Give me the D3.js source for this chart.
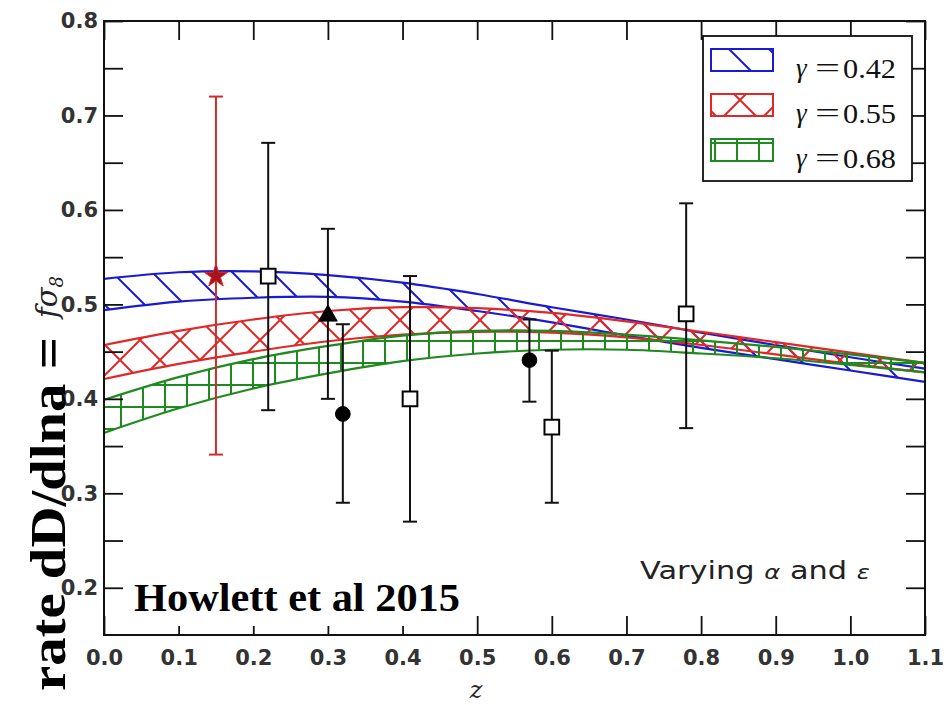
<!DOCTYPE html>
<html>
<head>
<meta charset="utf-8">
<script src="https://cdn.jsdelivr.net/npm/d3@7"></script>
<style>
body { margin: 0; background: #fff; }
svg { display: block; }
</style>
</head>
<body>
<svg id="chart"></svg>
<script>
// band grid (redshift) and the three growth-index bands
const zGrid    = [0.0, 0.1, 0.2, 0.3, 0.4, 0.5, 0.6, 0.7, 0.8, 0.9, 1.0, 1.1];
const blueHi   = [0.527, 0.534, 0.535, 0.531, 0.523, 0.511, 0.497, 0.484, 0.470, 0.457, 0.444, 0.432];
const blueLo   = [0.494, 0.503, 0.507, 0.508, 0.503, 0.493, 0.481, 0.467, 0.454, 0.442, 0.430, 0.418];
const redHi    = [0.457, 0.472, 0.484, 0.493, 0.497, 0.496, 0.491, 0.482, 0.471, 0.460, 0.449, 0.438];
const redLo    = [0.421, 0.437, 0.450, 0.461, 0.468, 0.471, 0.470, 0.465, 0.457, 0.447, 0.437, 0.428];
const greenHi  = [0.399, 0.423, 0.442, 0.456, 0.467, 0.472, 0.472, 0.468, 0.462, 0.455, 0.447, 0.438];
const greenLo  = [0.364, 0.390, 0.411, 0.427, 0.440, 0.448, 0.452, 0.452, 0.448, 0.443, 0.436, 0.428];
const bandVals = ["0.42", "0.55", "0.68"];

// measurements
const pz     = [0.15, 0.22, 0.30, 0.32, 0.41, 0.57, 0.60, 0.78];
const pval   = [0.530, 0.530, 0.488, 0.384, 0.400, 0.441, 0.370, 0.490];
const plo    = [0.341, 0.388, 0.400, 0.290, 0.270, 0.397, 0.290, 0.369];
const phi    = [0.720, 0.671, 0.580, 0.479, 0.530, 0.484, 0.451, 0.607];
const pshape = ["star", "square", "triangle", "circle", "square", "circle", "square", "square"];

const xTicks = [0.0, 0.1, 0.2, 0.3, 0.4, 0.5, 0.6, 0.7, 0.8, 0.9, 1.0, 1.1];
const yTicks = [0.2, 0.25, 0.3, 0.35, 0.4, 0.45, 0.5, 0.55, 0.6, 0.65, 0.7, 0.75, 0.8];

const W = 946, H = 705;
const L = 104, R = 925, T = 21, B = 635;

const svg = d3.select("svg#chart")
              .attr("width", W)
              .attr("height", H)

const x = d3.scaleLinear().domain([0, 1.1]).range([L, R])
const y = d3.scaleLinear().domain([0.15, 0.8]).range([B, T])

//hatch patterns
const defs = svg.append("defs")
function hatch(id, color, size, d) {
    defs.append("pattern")
        .attr("id", id)
        .attr("patternUnits", "userSpaceOnUse")
        .attr("width", size)
        .attr("height", size)
      .append("path")
        .attr("d", d)
        .attr("stroke", color)
        .attr("stroke-width", 2)
        .attr("fill", "none")
}
hatch("hBlue", "#1a1ad0", 40, "M0,0L40,40M-10,30L10,50M30,-10L50,10")
hatch("hRed", "#e02828", 40, "M0,0L40,40M-10,30L10,50M30,-10L50,10M0,40L40,0M-10,10L10,-10M30,50L50,30")
hatch("hGreen", "#1f8a1f", 22, "M11,0V22M0,11H22")

defs.append("clipPath").attr("id", "plotClip")
    .append("rect").attr("x", L).attr("y", T).attr("width", R - L).attr("height", B - T)

const bands = [
    {hi: blueHi, lo: blueLo, color: "#1a1ad0", pat: "hBlue"},
    {hi: redHi, lo: redLo, color: "#e02828", pat: "hRed"},
    {hi: greenHi, lo: greenLo, color: "#1f8a1f", pat: "hGreen"}
]

const plot = svg.append("g").attr("clip-path", "url(#plotClip)")
const curve = d3.curveCatmullRom

bands.forEach(b => {
    const area = d3.area()
                   .x((d, i) => x(zGrid[i]))
                   .y0((d, i) => y(b.lo[i]))
                   .y1((d, i) => y(b.hi[i]))
                   .curve(curve)
    plot.append("path")
        .attr("d", area(zGrid))
        .attr("fill", "url(#" + b.pat + ")")
    const line = d3.line().curve(curve)
    ;[b.hi, b.lo].forEach(arr => {
        plot.append("path")
            .attr("d", line(zGrid.map((z, i) => [x(z), y(arr[i])])))
            .attr("fill", "none")
            .attr("stroke", b.color)
            .attr("stroke-width", 2.2)
    })
})

//error bars + markers
pz.forEach((z, i) => {
    const col = pshape[i] === "star" ? "#d42a2a" : "#111"
    const cx = x(z)
    plot.append("line")
        .attr("x1", cx).attr("x2", cx)
        .attr("y1", y(plo[i])).attr("y2", y(phi[i]))
        .attr("stroke", col).attr("stroke-width", 2)
    ;[plo[i], phi[i]].forEach(v => {
        plot.append("line")
            .attr("x1", cx - 7).attr("x2", cx + 7)
            .attr("y1", y(v)).attr("y2", y(v))
            .attr("stroke", col).attr("stroke-width", 2)
    })
})

const symbols = {
    star: d3.symbolStar, square: d3.symbolSquare,
    triangle: d3.symbolTriangle, circle: d3.symbolCircle
}
pz.forEach((z, i) => {
    const s = pshape[i]
    const size = s === "square" ? 215 : s === "circle" ? 170 : s === "star" ? 170 : 150
    plot.append("path")
        .attr("d", d3.symbol().type(symbols[s]).size(size)())
        .attr("transform", "translate(" + x(z) + "," + y(pval[i]) + ")")
        .attr("fill", s === "square" ? "white" : s === "star" ? "#a8141c" : "#000")
        .attr("stroke", s === "star" ? "#d42a2a" : "#000")
        .attr("stroke-width", s === "square" ? 2 : 1)
})

//axes, ticks pointing in
const tickFont = g => g.selectAll("text")
                       .attr("font-family", "DejaVu Sans")
                       .attr("font-weight", "bold")
                       .attr("font-size", 21)
                       .attr("fill", "#333")
const noDomain = g => g.select(".domain").remove()

svg.append("g")
   .attr("transform", "translate(0," + B + ")")
   .call(d3.axisBottom(x).tickValues(xTicks).tickSize(-19).tickPadding(15).tickFormat(d3.format(".1f")))
   .call(noDomain).call(tickFont)
svg.append("g")
   .attr("transform", "translate(0," + T + ")")
   .call(d3.axisTop(x).tickValues(xTicks).tickSize(-19).tickFormat(""))
   .call(noDomain)
svg.append("g")
   .attr("transform", "translate(" + L + ",0)")
   .call(d3.axisLeft(y).tickValues(yTicks).tickSize(-19).tickPadding(6)
         .tickFormat(d => Math.round(d * 100) % 10 === 0 ? d3.format(".1f")(d) : ""))
   .call(noDomain).call(tickFont)
svg.append("g")
   .attr("transform", "translate(" + R + ",0)")
   .call(d3.axisRight(y).tickValues(yTicks).tickSize(-19).tickFormat(""))
   .call(noDomain)
svg.selectAll(".tick line").attr("stroke", "#111").attr("stroke-width", 1.8)

//frame
svg.append("rect")
   .attr("x", L).attr("y", T)
   .attr("width", R - L).attr("height", B - T)
   .attr("fill", "none")
   .attr("stroke", "#111")
   .attr("stroke-width", 2)

//legend
const leg = svg.append("g")
leg.append("rect")
   .attr("x", 703).attr("y", 36).attr("width", 209).attr("height", 145)
   .attr("fill", "white").attr("stroke", "#111").attr("stroke-width", 1.8)
bands.forEach((b, i) => {
    const yy = 49 + i * 45
    leg.append("rect")
       .attr("x", 711).attr("y", yy).attr("width", 62).attr("height", 22)
       .attr("fill", "url(#" + b.pat + ")")
       .attr("stroke", b.color).attr("stroke-width", 2)
    const row = leg.append("g")
                   .attr("font-family", "Liberation Serif")
                   .attr("fill", "#111")
    row.append("text")
       .attr("x", 796).attr("y", yy + 28)
       .attr("font-style", "italic").attr("font-size", 27)
       .text("γ")
    row.append("text")
       .attr("x", 815).attr("y", yy + 28)
       .attr("font-size", 28)
       .attr("textLength", 25).attr("lengthAdjust", "spacingAndGlyphs")
       .text("=")
    row.append("text")
       .attr("x", 843).attr("y", yy + 29)
       .attr("font-size", 27)
       .attr("textLength", 53).attr("lengthAdjust", "spacingAndGlyphs")
       .text(bandVals[i])
})

//annotation
svg.append("rect")
   .attr("x", 127).attr("y", 566).attr("width", 342).attr("height", 60)
   .attr("fill", "white")
svg.append("text")
   .attr("x", 134).attr("y", 611)
   .attr("font-family", "Liberation Serif")
   .attr("font-weight", "bold")
   .attr("font-size", 40)
   .attr("textLength", 326)
   .attr("lengthAdjust", "spacingAndGlyphs")
   .text("Howlett et al 2015")

const vary = svg.append("text")
   .attr("x", 640).attr("y", 579)
   .attr("font-family", "DejaVu Sans")
   .attr("font-size", 25)
   .attr("fill", "#222")
   .attr("textLength", 230)
   .attr("lengthAdjust", "spacingAndGlyphs")
vary.append("tspan").text("Varying ")
vary.append("tspan").attr("font-style", "italic").attr("font-size", 20).text("α")
vary.append("tspan").text(" and ")
vary.append("tspan").attr("font-style", "italic").attr("font-size", 20).text("ε")

//axis labels
svg.append("text")
   .attr("x", 476).attr("y", 698)
   .attr("text-anchor", "middle")
   .attr("font-family", "DejaVu Serif")
   .attr("font-style", "italic")
   .attr("font-size", 24)
   .attr("fill", "#222")
   .text("z")

svg.append("text")
   .attr("transform", "translate(65,691) rotate(-90)")
   .attr("font-family", "Liberation Serif")
   .attr("font-weight", "bold")
   .attr("font-size", 50)
   .attr("textLength", 354)
   .attr("lengthAdjust", "spacingAndGlyphs")
   .text("rate dD/dlna =")

const fs = svg.append("text")
   .attr("transform", "translate(57,297) rotate(-90)")
   .attr("text-anchor", "middle")
   .attr("font-family", "DejaVu Serif")
   .attr("font-style", "italic")
   .attr("font-size", 29)
   .attr("fill", "#222")
fs.append("tspan").text("fσ")
fs.append("tspan").attr("font-size", 18).attr("dy", 6).text("8")
</script>
</body>
</html>
